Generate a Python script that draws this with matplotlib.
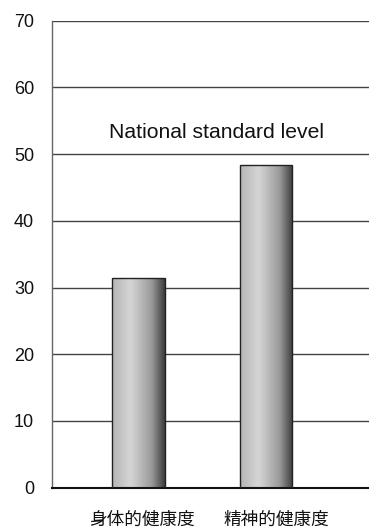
import numpy as np
import matplotlib
matplotlib.use('Agg')
import matplotlib.pyplot as plt
import matplotlib.transforms as mtransforms
from matplotlib.colors import LinearSegmentedColormap

plt.rcParams['font.family'] = ['Liberation Sans', 'Noto Sans CJK JP']

categories = ['身体的健康度', '精神的健康度']
values = [31.5, 48.3]
yticks = [0, 10, 20, 30, 40, 50, 60, 70]
ref_label = 'National standard level'

fig = plt.figure(figsize=(3.69, 5.29), dpi=100)
ax = fig.add_axes([0.1417, 0.0781, 0.8583, 0.8828])

x = np.arange(len(categories))
width = 0.41

# grey shading: lighter on the left, dark towards the right edge
shade = LinearSegmentedColormap.from_list(
    'shade', [(0.0, '#b4b4b4'), (0.35, '#d6d6d6'), (0.75, '#9a9a9a'), (1.0, '#3c3c3c')])
grad = np.linspace(0, 1, 256).reshape(1, -1)

bars = ax.bar(x, values, width, color='none', edgecolor='#222222', linewidth=1.0, zorder=3)
for b in bars:
    x0, y0 = b.get_x(), b.get_y()
    im = ax.imshow(grad, cmap=shade, aspect='auto', interpolation='bicubic',
                   extent=[x0, x0 + b.get_width(), y0, y0 + b.get_height()], zorder=2)
    im.set_clip_path(b)

ax.set_xlim(-0.676, 1.808)
ax.set_ylim(0, 70)
ax.set_yticks(yticks)
ax.yaxis.grid(True, color='#444444', linewidth=1.0)
ax.set_axisbelow(True)
ax.tick_params(axis='y', length=0, pad=13, labelsize=13, labelcolor='#111111')
ax.set_xticks([])

# category names under the bars
trans = mtransforms.blended_transform_factory(ax.transData, ax.transAxes)
for xi, name, dx in zip(x, categories, [0.027, 0.078]):
    ax.text(xi + dx, -0.069, name, transform=trans, ha='center', va='center',
            fontsize=12.7, family=['Noto Sans CJK JP', 'Liberation Sans'], color='#111111')

for side in ['top', 'right']:
    ax.spines[side].set_visible(False)
ax.spines['left'].set_color('#666666')
ax.spines['left'].set_linestyle((0, (1, 1)))
ax.spines['left'].set_linewidth(1.0)
ax.spines['bottom'].set_color('#111111')
ax.spines['bottom'].set_linewidth(1.5)

ax.text(0.518, 0.7596, ref_label, transform=ax.transAxes, ha='center', va='center',
        fontsize=15.2, color='#111111')

fig.savefig('out.png', dpi=100)
